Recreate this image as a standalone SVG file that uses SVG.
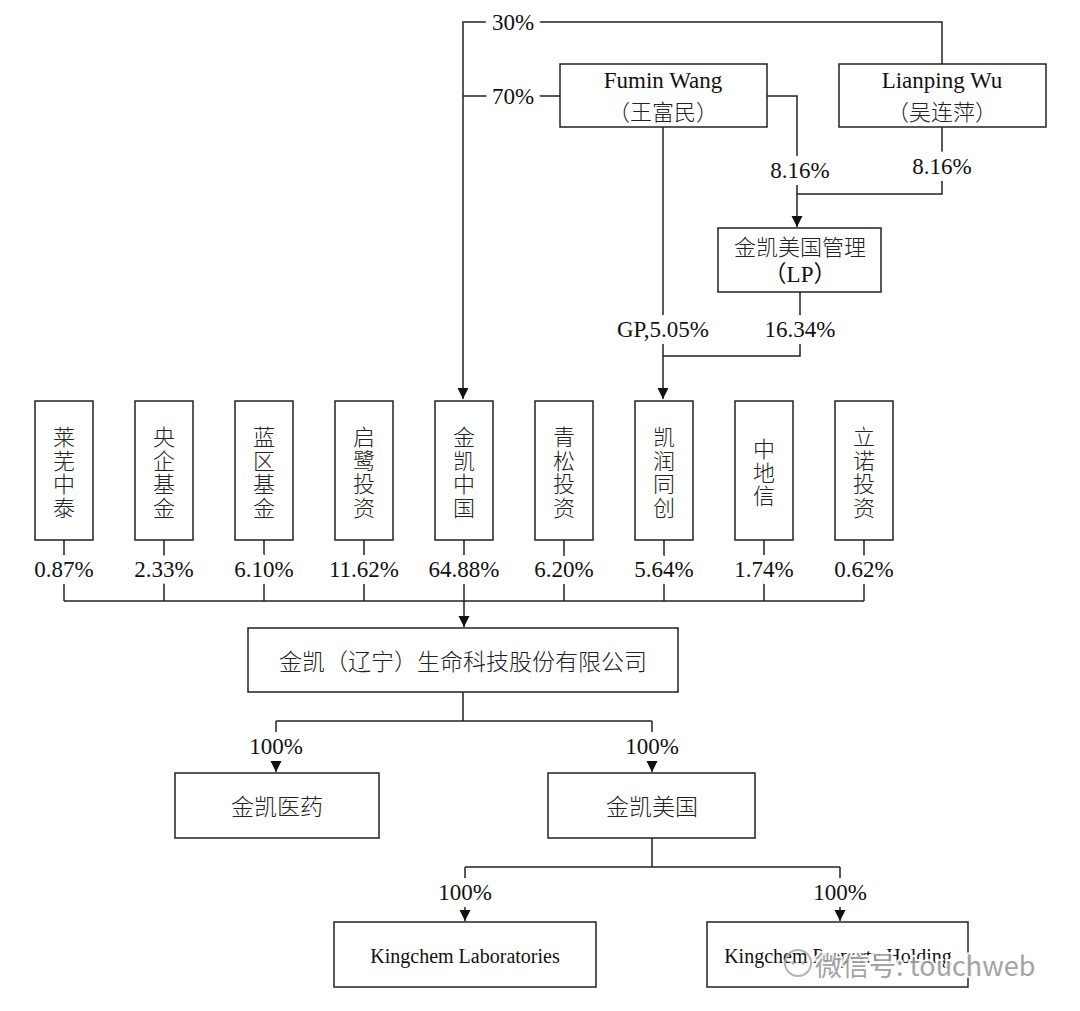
<svg xmlns="http://www.w3.org/2000/svg" width="1080" height="1011" viewBox="0 0 1080 1011">
<style>
.box{fill:#fff;stroke:#222;stroke-width:1.5}
.t{font-family:"Liberation Serif","Noto Sans CJK SC",serif;font-size:23px;fill:#111;text-anchor:middle;dominant-baseline:central}
.c{font-family:"Noto Sans CJK SC","Liberation Serif",serif;font-size:22px;fill:#222;text-anchor:middle;dominant-baseline:central;font-weight:300}
.v{font-family:"Noto Sans CJK SC",serif;font-size:22px;fill:#222;text-anchor:middle;writing-mode:vertical-rl;letter-spacing:1.5px;font-weight:300}
.lbl{font-family:"Liberation Serif","Noto Sans CJK SC",serif;font-size:23px;fill:#111;text-anchor:middle;dominant-baseline:central;stroke:#fff;stroke-width:14;paint-order:stroke;stroke-linejoin:miter}
.s{font-family:"Liberation Serif",serif;font-size:20px;fill:#111;text-anchor:middle;dominant-baseline:central}
.ln{fill:none;stroke:#222;stroke-width:1.5}
.wm{font-family:"Noto Sans CJK SC","Liberation Sans",sans-serif;font-size:27px;fill:#9a9a9a;stroke:#fff;stroke-width:4;paint-order:stroke;dominant-baseline:central}
</style>
<defs>
<marker id="arr" viewBox="0 0 10 10" refX="10" refY="5" markerWidth="11" markerHeight="12" markerUnits="userSpaceOnUse" orient="auto">
<path d="M0,0 L10,5 L0,10 z" fill="#111"/>
</marker>
</defs>
<rect width="1080" height="1011" fill="#fff"/>

<g id="connectors">
<path class="ln" d="M942,64 V22 H463 V399" marker-end="url(#arr)"/>
<path class="ln" d="M560,96 H463"/>
<path class="ln" d="M767,96 H797 V227" marker-end="url(#arr)"/>
<path class="ln" d="M942,127 V194 H797"/>
<path class="ln" d="M663,127 V399" marker-end="url(#arr)"/>
<path class="ln" d="M800,292 V356 H663"/>
<path class="ln" d="M64,540 V601 M164,540 V601 M264,540 V601 M364,540 V601 M464,540 V601 M564,540 V601 M664,540 V601 M764,540 V601 M864,540 V601 M64,601 H864"/>
<path class="ln" d="M464,601 V627" marker-end="url(#arr)"/>
<path class="ln" d="M463,692 V721 M276,721 H652"/>
<path class="ln" d="M276,721 V772" marker-end="url(#arr)"/>
<path class="ln" d="M652,721 V772" marker-end="url(#arr)"/>
<path class="ln" d="M652,838 V867 M465,867 H840"/>
<path class="ln" d="M465,867 V921" marker-end="url(#arr)"/>
<path class="ln" d="M840,867 V921" marker-end="url(#arr)"/>
<text class="lbl" x="513" y="22">30%</text>
<text class="lbl" x="513" y="96">70%</text>
<text class="lbl" x="800" y="170">8.16%</text>
<text class="lbl" x="942" y="166">8.16%</text>
<text class="lbl" x="663" y="329">GP,5.05%</text>
<text class="lbl" x="800" y="329">16.34%</text>
<text class="lbl" x="64" y="569">0.87%</text>
<text class="lbl" x="164" y="569">2.33%</text>
<text class="lbl" x="264" y="569">6.10%</text>
<text class="lbl" x="364" y="569">11.62%</text>
<text class="lbl" x="464" y="569">64.88%</text>
<text class="lbl" x="564" y="569">6.20%</text>
<text class="lbl" x="664" y="569">5.64%</text>
<text class="lbl" x="764" y="569">1.74%</text>
<text class="lbl" x="864" y="569">0.62%</text>
<text class="lbl" x="276" y="746">100%</text>
<text class="lbl" x="652" y="746">100%</text>
<text class="lbl" x="465" y="892">100%</text>
<text class="lbl" x="840" y="892">100%</text>
</g>

<g id="fumin">
<rect class="box" x="560" y="64" width="207" height="63"/>
<text class="t" x="663" y="80">Fumin Wang</text>
<text class="c" x="663" y="110">（王富民）</text>
</g>
<g id="lianping">
<rect class="box" x="839" y="64" width="207" height="63"/>
<text class="t" x="942" y="80">Lianping Wu</text>
<text class="c" x="942" y="110">（吴连萍）</text>
</g>
<g id="jk-us-mgmt">
<rect class="box" x="718" y="228" width="163" height="64"/>
<text class="c" x="800" y="245">金凯美国管理</text>
<text class="t" x="800" y="274">（LP）</text>
</g>

<g id="laiwu"><rect class="box" x="35" y="401" width="58" height="139"/><text class="v" x="64" y="473">莱芜中泰</text></g>
<g id="yangqi"><rect class="box" x="135" y="401" width="58" height="139"/><text class="v" x="164" y="473">央企基金</text></g>
<g id="lanqu"><rect class="box" x="235" y="401" width="58" height="139"/><text class="v" x="264" y="473">蓝区基金</text></g>
<g id="qilu"><rect class="box" x="335" y="401" width="58" height="139"/><text class="v" x="364" y="473">启鹭投资</text></g>
<g id="jk-china"><rect class="box" x="435" y="401" width="58" height="139"/><text class="v" x="464" y="473">金凯中国</text></g>
<g id="qingsong"><rect class="box" x="535" y="401" width="58" height="139"/><text class="v" x="564" y="473">青松投资</text></g>
<g id="kairun"><rect class="box" x="635" y="401" width="58" height="139"/><text class="v" x="664" y="473">凯润同创</text></g>
<g id="zhongdixin"><rect class="box" x="735" y="401" width="58" height="139"/><text class="v" x="764" y="473">中地信</text></g>
<g id="linuo"><rect class="box" x="835" y="401" width="58" height="139"/><text class="v" x="864" y="473">立诺投资</text></g>

<g id="main">
<rect class="box" x="248" y="628" width="430" height="64"/>
<text class="c" x="463" y="660" style="font-size:23px">金凯（辽宁）生命科技股份有限公司</text>
</g>
<g id="jk-pharma">
<rect class="box" x="175" y="773" width="204" height="65"/>
<text class="c" x="277" y="805" style="font-size:23px">金凯医药</text>
</g>
<g id="jk-us">
<rect class="box" x="548" y="773" width="207" height="65"/>
<text class="c" x="652" y="805" style="font-size:23px">金凯美国</text>
</g>
<g id="kingchem-lab">
<rect class="box" x="334" y="922" width="262" height="65"/>
<text class="s" x="465" y="956">Kingchem Laboratories</text>
</g>
<g id="kingchem-prop">
<rect class="box" x="707" y="922" width="261" height="65"/>
<text class="s" x="838" y="956">Kingchem Property Holding</text>
</g>

<g id="watermark" opacity="0.9">
<circle cx="798" cy="963" r="13" fill="none" stroke="#aaa" stroke-width="2"/>
<circle cx="793" cy="963" r="1.7" fill="#aaa"/><circle cx="803" cy="963" r="1.7" fill="#aaa"/>
<text class="wm" x="815" y="964">微信号: touchweb</text>
</g>
</svg>
